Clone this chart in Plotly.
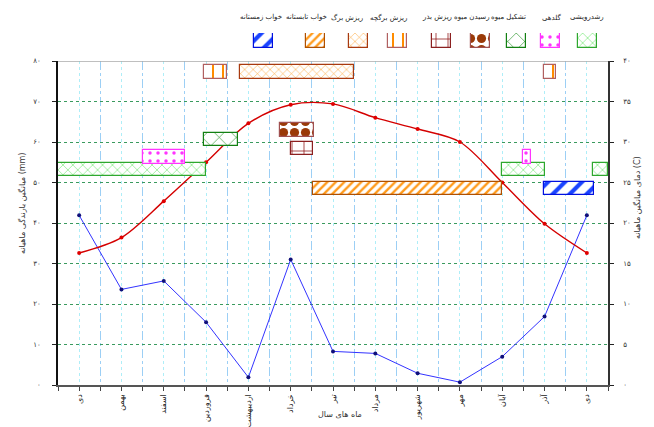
import plotly.graph_objects as go

# ---------------- data ----------------
MONTHS = ["دی", "بهمن", "اسفند", "فروردین", "اردیبهشت", "خرداد", "تیر",
          "مرداد", "شهریور", "مهر", "آبان", "آذر", "دی"]
RAIN_MM = [41.9, 23.6, 25.7, 15.5, 1.9, 31.0, 8.3, 7.8, 2.9, 0.7, 7.0, 16.9, 41.9]
TEMP_C = [16.3, 18.2, 22.7, 27.5, 32.3, 34.6, 34.7, 33.0, 31.6, 30.0, 25.0, 19.9, 16.3]

RAIN_TICKS = [0, 10, 20, 30, 40, 50, 60, 70, 80]
RAIN_TICK_TEXT = ["۰", "۱۰", "۲۰", "۳۰", "۴۰", "۵۰", "۶۰", "۷۰", "۸۰"]
TEMP_TICKS = [0, 5, 10, 15, 20, 25, 30, 35, 40]
TEMP_TICK_TEXT = ["۰", "۵", "۱۰", "۱۵", "۲۰", "۲۵", "۳۰", "۳۵", "۴۰"]

PHASE_NAMES = ["رشدرویشی", "گلدهی", "تشکیل میوه", "رسیدن میوه", "ریزش بذر",
               "ریزش برگچه", "ریزش برگ", "خواب تابستانه", "خواب زمستانه"]
# spans along the month axis (month index units)
PHASE_START = [[-0.5, 10.0, 12.15], [1.5, 10.5], [2.95], [4.75], [5.0],
               [2.95, 10.98], [3.8], [5.52], [10.98]]
PHASE_END = [[3.0, 11.0, 12.5], [2.5, 10.67], [3.75], [5.54], [5.53],
             [3.5, 11.26], [6.5], [10.0], [12.16]]
# vertical band of each phase row (left-axis units)
PHASE_LOW = [51.5, 54.6, 58.9, 61.2, 56.8, 75.5, 75.5, 46.8, 46.8]
PHASE_HIGH = [54.8, 58.0, 62.2, 64.6, 60.1, 79.0, 79.0, 50.1, 50.1]

# ---------------- styles ----------------
FONT = "DejaVu Sans"
PHASE_STYLE = [
    dict(fg="#33dd33", line="#2ea82e", shape="x", size=7, solidity=0.12),
    dict(fg="#ff33ff", line="#ff33ff", shape=".", size=8, solidity=0.15),
    dict(fg="#1e8f1e", line="#128012", shape="x", size=12, solidity=0.1),
    dict(fg="#9a3a08", line="#a05050", shape=".", size=11, solidity=0.55),
    dict(fg="#8b1010", line="#8b2020", shape="+", size=12, solidity=0.12),
    dict(fg="#ff8c00", line="#b06060", shape="|", size=10, solidity=0.2),
    dict(fg="#ff9a1a", line="#a83a10", shape="x", size=6, solidity=0.15),
    dict(fg="#ff9a1a", line="#b05000", shape="/", size=6, solidity=0.4),
    dict(fg="#1a44ff", line="#0010e0", shape="/", size=12, solidity=0.35),
]
# legend key placement (pixel positions along the top strip)
LEGEND_KEY_PX = [587, 550, 516, 480, 441, 397, 358, 315, 263]
LEGEND_LABEL_PX = [587, 552, 508, 472, 437, 388, 347, 306, 261]

W, H = 654, 427
ML, MR, MT, MB = 58, 46, 10, 42
plot_w = W - ML - MR
plot_h = H - MT - MB
main_top_px = 61
main_dom_top = (H - MB - main_top_px) / plot_h
leg_dom = [(H - MB - 48) / plot_h, (H - MB - 33) / plot_h]

fig = go.Figure()

# precipitation (left axis)
fig.add_trace(go.Scatter(
    x=list(range(len(MONTHS))), y=RAIN_MM, mode="lines+markers",
    line=dict(color="#3333ff", width=1),
    marker=dict(color="#10107a", size=4),
    xaxis="x", yaxis="y", hoverinfo="skip"))

# temperature (right axis)
fig.add_trace(go.Scatter(
    x=list(range(len(MONTHS))), y=TEMP_C, mode="lines+markers",
    line=dict(color="#d40000", width=1.4, shape="spline", smoothing=0.9),
    marker=dict(color="#e00000", size=4),
    xaxis="x", yaxis="y2", hoverinfo="skip"))

# phenology boxes
for i, name in enumerate(PHASE_NAMES):
    st = PHASE_STYLE[i]
    starts, ends = PHASE_START[i], PHASE_END[i]
    lo, hi = PHASE_LOW[i], PHASE_HIGH[i]
    pattern = dict(shape=st["shape"], fgcolor=st["fg"], bgcolor="white",
                   size=st["size"], solidity=st["solidity"], fillmode="replace")
    fig.add_trace(go.Bar(
        orientation="h",
        y=[(lo + hi) / 2] * len(starts),
        x=[e - s for s, e in zip(starts, ends)],
        base=starts,
        width=[hi - lo] * len(starts),
        marker=dict(color="white", line=dict(color=st["line"], width=1.2),
                    pattern=pattern),
        xaxis="x", yaxis="y3", hoverinfo="skip", name=name))
    # legend key
    fig.add_trace(go.Bar(
        x=[LEGEND_KEY_PX[i]], y=[1], base=[0], width=[19],
        marker=dict(color="white", line=dict(color=st["line"], width=1.2),
                    pattern=pattern),
        xaxis="x2", yaxis="y4", hoverinfo="skip", name=name))

annotations = []
for i, name in enumerate(PHASE_NAMES):
    annotations.append(dict(
        x=LEGEND_LABEL_PX[i], xref="x2", y=(H - MB - 17) / plot_h, yref="paper",
        text=name, showarrow=False, xanchor="center", yanchor="middle",
        font=dict(family=FONT, size=7, color="#222222")))

annotations += [
    dict(x=(340 - ML) / plot_w, y=(H - MB - 421) / plot_h, xref="paper", yref="paper",
         text="ماه های سال", showarrow=False,
         font=dict(family=FONT, size=8, color="#333333")),
    dict(x=(15 - ML) / plot_w, y=(H - MB - 204) / plot_h, xref="paper", yref="paper",
         text="میانگین بارندگی ماهیانه (mm)", textangle=-90, showarrow=False,
         font=dict(family=FONT, size=8, color="#333333")),
    dict(x=(644 - ML) / plot_w, y=(H - MB - 198) / plot_h, xref="paper", yref="paper",
         text="دمای میانگین ماهیانه (C)", textangle=-90, showarrow=False,
         font=dict(family=FONT, size=8, color="#333333")),
]

n = len(MONTHS)
fig.update_layout(
    width=W, height=H,
    margin=dict(l=ML, r=MR, t=MT, b=MB, pad=0, autoexpand=False),
    paper_bgcolor="white", plot_bgcolor="white",
    showlegend=False, barmode="overlay", bargap=0,
    font=dict(family=FONT, size=7, color="#333333"),
    annotations=annotations,
    xaxis=dict(
        domain=[0, 1], range=[-0.5, n - 0.5], anchor="y", automargin=False,
        tickmode="array", tickvals=list(range(n)), ticktext=MONTHS,
        tickangle=-90, tickfont=dict(size=8, color="#222222"),
        ticks="outside", ticklen=4, tickcolor="#444444",
        showline=True, linecolor="#555555", linewidth=2,
        showgrid=True, gridcolor="#aeeef8", griddash="dot", gridwidth=1,
        minor=dict(tickvals=[i + 0.5 for i in range(-1, n)], ticks="outside",
                   ticklen=4, tickcolor="#444444", showgrid=True,
                   gridcolor="#9ccff5", griddash="dashdot", gridwidth=1),
        zeroline=False, fixedrange=True),
    yaxis=dict(
        domain=[0, main_dom_top], range=[0, 80], anchor="x", automargin=False,
        tickmode="array", tickvals=RAIN_TICKS, ticktext=RAIN_TICK_TEXT,
        ticks="outside", ticklen=4, tickcolor="#222222", ticklabelstandoff=10,
        showline=True, linecolor="#111111", linewidth=1.5,
        showgrid=True, gridcolor="#3a9a5e", griddash="dot", gridwidth=1,
        zeroline=False, fixedrange=True),
    yaxis2=dict(
        overlaying="y", side="right", range=[0, 40], anchor="x", automargin=False,
        tickmode="array", tickvals=TEMP_TICKS, ticktext=TEMP_TICK_TEXT,
        ticks="outside", ticklen=4, tickcolor="#222222", ticklabelstandoff=8,
        showline=True, linecolor="#333333", linewidth=1.5,
        showgrid=False, zeroline=False, fixedrange=True),
    yaxis3=dict(overlaying="y", range=[0, 80], visible=False, anchor="x"),
    xaxis2=dict(domain=[0, 1], range=[ML, W - MR], visible=False, anchor="y4"),
    yaxis4=dict(domain=leg_dom, range=[0, 1], visible=False, anchor="x2"),
    shapes=[dict(type="line", xref="paper", x0=0, x1=1, yref="y", y0=80, y1=80,
                 line=dict(color="#aaaaaa", width=1.5), layer="above")],
)

fig.write_html("out.html")
